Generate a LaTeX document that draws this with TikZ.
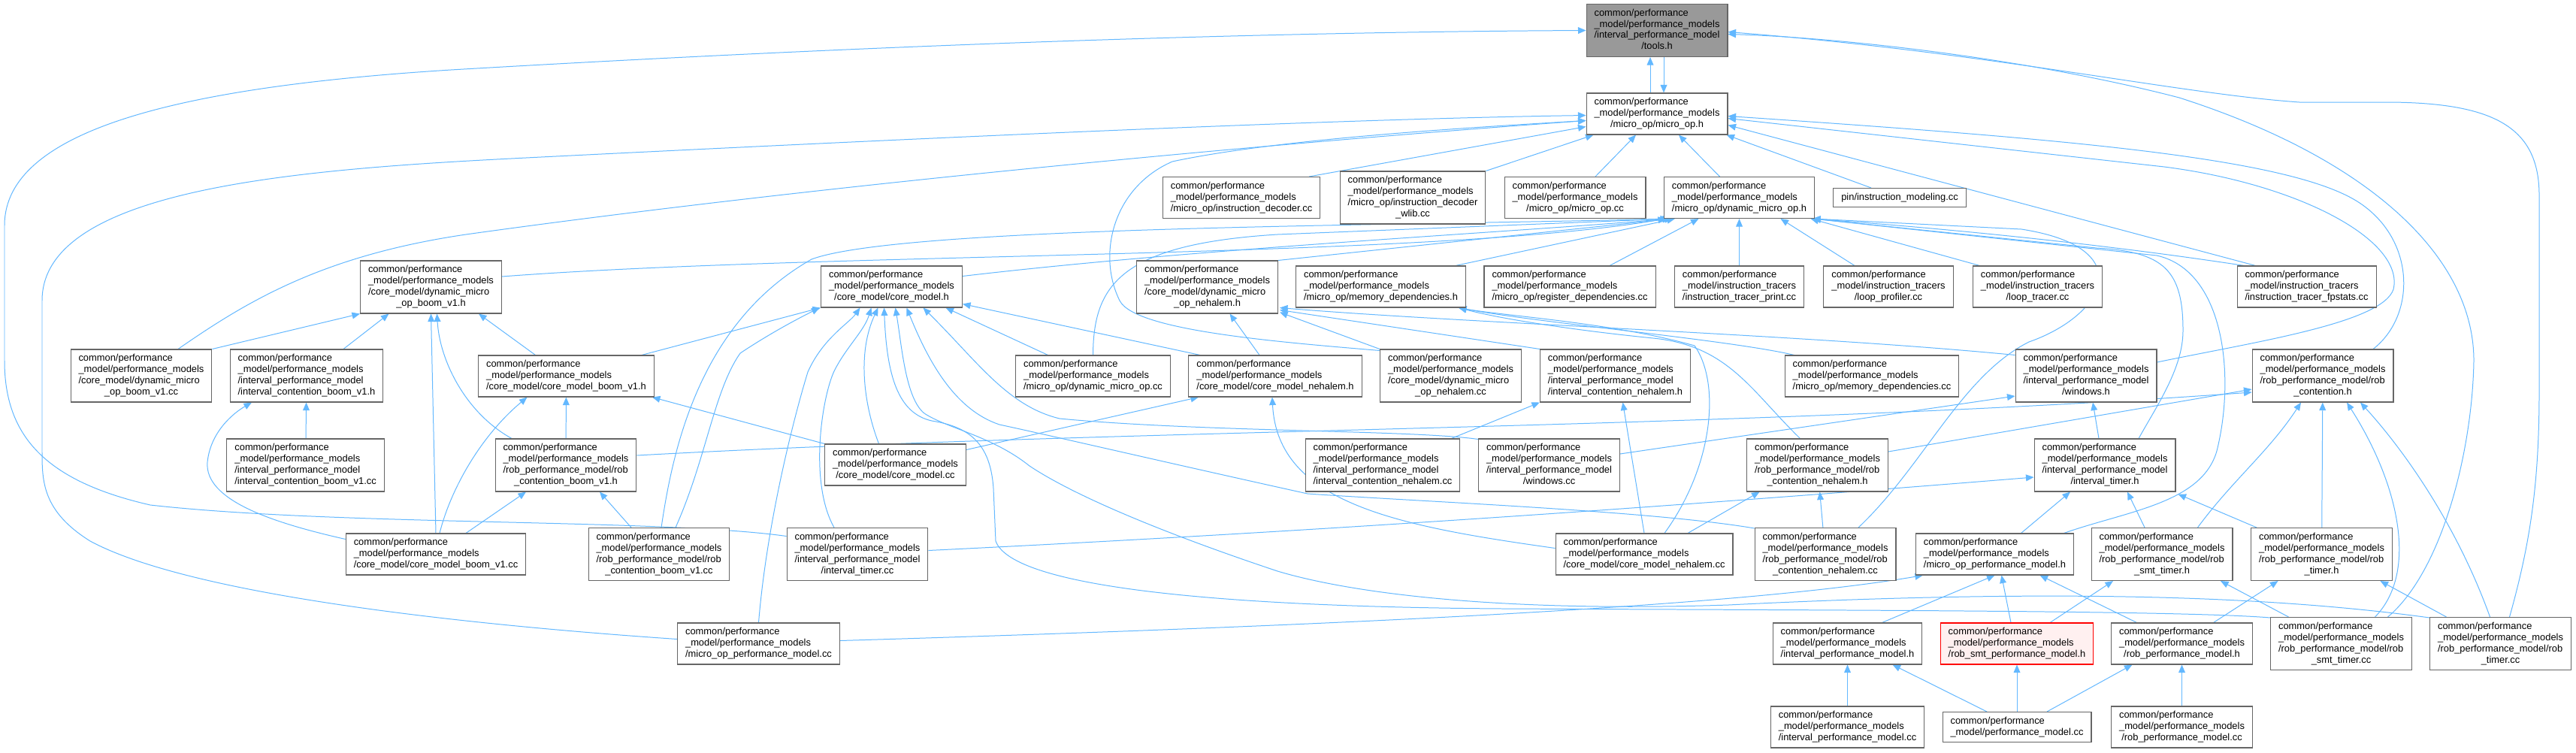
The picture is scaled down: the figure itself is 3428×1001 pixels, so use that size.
\documentclass[tikz,border=0pt]{standalone}
\usepackage{fontspec}
\setmainfont{Liberation Sans}
\usetikzlibrary{arrows.meta,calc,backgrounds}
\definecolor{edgeblue}{HTML}{63B8FF}
\definecolor{nodegray}{HTML}{666666}
\definecolor{curfill}{HTML}{999999}
\definecolor{redfill}{HTML}{FFF0F0}
\tikzset{
  fnode/.style={draw=nodegray,line width=0.9pt,fill=white,rectangle,inner xsep=0.315cm,inner ysep=0.15cm,font=\fontsize{11}{12.8}\selectfont},
  curnode/.style={fnode,fill=curfill},
  rednode/.style={fnode,draw=red,fill=redfill},
  inc/.style={-{Triangle[length=9pt,width=7.5pt]},draw=edgeblue,line width=0.85pt}
}
\newcommand{\cpm}{common/performance\\\_model/performance\_models}
\newcommand{\cit}{common/performance\\\_model/instruction\_tracers}
\newcommand{\lbl}[2]{\begin{tabular}{@{}l@{}}#1\\\multicolumn{1}{@{}c@{}}{#2}\end{tabular}}
\newcommand{\lone}[1]{\begin{tabular}{@{}c@{}}#1\end{tabular}}

\begin{document}
\begin{tikzpicture}[x=0.03cm,y=-0.03cm]
  \useasboundingbox (0,0) rectangle (3428,1001);

  % Top: tools.h and micro_op.h
  \node[curnode] (tools) at (2205,40.5) {\lbl{\cpm\\/interval\_performance\_model}{/tools.h}};
  \node[fnode] (microop) at (2205,151.5) {\lbl{\cpm}{/micro\_op/micro\_op.h}};

  % Row 3
  \node[fnode] (idec) at (1652,263) {\lbl{\cpm}{/micro\_op/instruction\_decoder.cc}};
  \node[fnode] (wlib) at (1880,263) {\lbl{\cpm\\/micro\_op/instruction\_decoder}{\_wlib.cc}};
  \node[fnode] (mopcc) at (2096,263) {\lbl{\cpm}{/micro\_op/micro\_op.cc}};
  \node[fnode] (dmoph) at (2314.5,263) {\lbl{\cpm}{/micro\_op/dynamic\_micro\_op.h}};
  \node[fnode] (pin) at (2528,263) {\lone{pin/instruction\_modeling.cc}};

  % Row 4
  \node[fnode] (dmbh) at (573.5,382) {\lbl{\cpm\\/core\_model/dynamic\_micro}{\_op\_boom\_v1.h}};
  \node[fnode] (cmh) at (1186.5,381.5) {\lbl{\cpm}{/core\_model/core\_model.h}};
  \node[fnode] (dmnh) at (1606.5,382) {\lbl{\cpm\\/core\_model/dynamic\_micro}{\_op\_nehalem.h}};
  \node[fnode] (memdh) at (1837.5,381.5) {\lbl{\cpm}{/micro\_op/memory\_dependencies.h}};
  \node[fnode] (regdcc) at (2089,381.5) {\lbl{\cpm}{/micro\_op/register\_dependencies.cc}};
  \node[fnode] (itpcc) at (2314.5,381.5) {\lbl{\cit}{/instruction\_tracer\_print.cc}};
  \node[fnode] (lpcc) at (2513,381.5) {\lbl{\cit}{/loop\_profiler.cc}};
  \node[fnode] (ltcc) at (2711.5,381.5) {\lbl{\cit}{/loop\_tracer.cc}};
  \node[fnode] (fpcc) at (3069.5,381.5) {\lbl{\cit}{/instruction\_tracer\_fpstats.cc}};

  % Row 5
  \node[fnode] (dmbcc) at (188,500) {\lbl{\cpm\\/core\_model/dynamic\_micro}{\_op\_boom\_v1.cc}};
  \node[fnode] (icbh) at (408,500) {\lbl{\cpm\\/interval\_performance\_model}{/interval\_contention\_boom\_v1.h}};
  \node[fnode] (cmbh) at (753.5,500.5) {\lbl{\cpm}{/core\_model/core\_model\_boom\_v1.h}};
  \node[fnode] (dmocc) at (1454.5,500.5) {\lbl{\cpm}{/micro\_op/dynamic\_micro\_op.cc}};
  \node[fnode] (cmnh) at (1697,500.5) {\lbl{\cpm}{/core\_model/core\_model\_nehalem.h}};
  \node[fnode] (dmncc) at (1930.5,500) {\lbl{\cpm\\/core\_model/dynamic\_micro}{\_op\_nehalem.cc}};
  \node[fnode] (icnh) at (2149.5,500) {\lbl{\cpm\\/interval\_performance\_model}{/interval\_contention\_nehalem.h}};
  \node[fnode] (memdcc) at (2491,500.5) {\lbl{\cpm}{/micro\_op/memory\_dependencies.cc}};
  \node[fnode] (winh) at (2776,500) {\lbl{\cpm\\/interval\_performance\_model}{/windows.h}};
  \node[fnode] (robch) at (3091,500) {\lbl{\cpm\\/rob\_performance\_model/rob}{\_contention.h}};

  % Row 6
  \node[fnode] (icbcc) at (406.6,619) {\lbl{\cpm\\/interval\_performance\_model}{/interval\_contention\_boom\_v1.cc}};
  \node[fnode] (rcbh) at (753,619) {\lbl{\cpm\\/rob\_performance\_model/rob}{\_contention\_boom\_v1.h}};
  \node[fnode] (cmcc) at (1191.5,618.5) {\lbl{\cpm}{/core\_model/core\_model.cc}};
  \node[fnode] (icncc) at (1840,619) {\lbl{\cpm\\/interval\_performance\_model}{/interval\_contention\_nehalem.cc}};
  \node[fnode] (wincc) at (2061.5,619) {\lbl{\cpm\\/interval\_performance\_model}{/windows.cc}};
  \node[fnode] (rcnh) at (2418.5,619) {\lbl{\cpm\\/rob\_performance\_model/rob}{\_contention\_nehalem.h}};
  \node[fnode] (ith) at (2801,619) {\lbl{\cpm\\/interval\_performance\_model}{/interval\_timer.h}};

  % Row 7
  \node[fnode] (cmbcc) at (580,737.5) {\lbl{\cpm}{/core\_model/core\_model\_boom\_v1.cc}};
  \node[fnode] (rcbcc) at (877,737.5) {\lbl{\cpm\\/rob\_performance\_model/rob}{\_contention\_boom\_v1.cc}};
  \node[fnode] (itcc) at (1141,737.5) {\lbl{\cpm\\/interval\_performance\_model}{/interval\_timer.cc}};
  \node[fnode] (cmncc) at (2188,737.5) {\lbl{\cpm}{/core\_model/core\_model\_nehalem.cc}};
  \node[fnode] (rcncc) at (2429,737.5) {\lbl{\cpm\\/rob\_performance\_model/rob}{\_contention\_nehalem.cc}};
  \node[fnode] (moph) at (2654.5,737.5) {\lbl{\cpm}{/micro\_op\_performance\_model.h}};
  \node[fnode] (rsth) at (2877,737.5) {\lbl{\cpm\\/rob\_performance\_model/rob}{\_smt\_timer.h}};
  \node[fnode] (rth) at (3089.5,737.5) {\lbl{\cpm\\/rob\_performance\_model/rob}{\_timer.h}};

  % Row 8
  \node[fnode] (mopcc2) at (1009.5,856.5) {\lbl{\cpm}{/micro\_op\_performance\_model.cc}};
  \node[fnode] (iph) at (2458.5,856.5) {\lbl{\cpm}{/interval\_performance\_model.h}};
  \node[rednode] (rsph) at (2684,856.5) {\lbl{\cpm}{/rob\_smt\_performance\_model.h}};
  \node[fnode] (rph) at (2903.5,856.5) {\lbl{\cpm}{/rob\_performance\_model.h}};
  \node[fnode] (rstcc) at (3115.5,856.5) {\lbl{\cpm\\/rob\_performance\_model/rob}{\_smt\_timer.cc}};
  \node[fnode] (rtcc) at (3327.5,856.5) {\lbl{\cpm\\/rob\_performance\_model/rob}{\_timer.cc}};

  % Row 9
  \node[fnode] (ipcc) at (2458.5,967.5) {\lbl{\cpm}{/interval\_performance\_model.cc}};
  \node[fnode] (pmcc) at (2684,967.5) {\lbl{common/performance}{\_model/performance\_model.cc}};
  \node[fnode] (rpcc) at (2903.5,967.5) {\lbl{\cpm}{/rob\_performance\_model.cc}};

  \begin{scope}[on background layer]
  \fill[white] (0,0) rectangle (3428,1001);

  % into tools.h
  \draw[inc] ($(microop.north)+(-9,0)$) -- ($(tools.south)+(-9,0)$);
  \draw[inc] ($(tools.south)+(9,0)$) -- ($(microop.north)+(9,0)$);
  \draw[inc] ($(itcc.west)+(0,-24)$) .. controls (880,690) and (450,700) .. (200,672) .. controls (60,640) and (6,580) .. (6,480) -- (6,300) .. controls (6,170) and (250,115) .. (600,93) .. controls (1300,52) and (1800,42) .. (tools.west);
  \draw[inc] ($(rtcc.north)+(12,0)$) .. controls (3368,720) and (3379,640) .. (3379,520) -- (3379,260) .. controls (3379,170) and (3320,137) .. (3180,136) -- (3060,136) .. controls (2900,125) and (2650,70) .. ($(tools.east)+(0,2)$);
  \draw[inc] ($(rstcc.north)+(62,0)$) .. controls (3250,760) and (3290,600) .. (3292,480) .. controls (3292,340) and (3150,210) .. (2900,130) .. controls (2700,78) and (2450,50) .. ($(tools.east)+(0,5)$);

  % into micro_op.h
  \draw[inc] ($(idec.north east)+(-15,0)$) -- ($(microop.west)+(0,17)$);
  \draw[inc] (wlib.north east) -- ($(microop.south west)+(10,0)$);
  \draw[inc] ($(mopcc.north)+(27,0)$) -- ($(microop.south)+(-28,0)$);
  \draw[inc] ($(dmoph.north)+(-26,0)$) -- ($(microop.south)+(29,0)$);
  \draw[inc] ($(pin.north)+(-38,0)$) -- ($(microop.south east)+(-2,0)$);
  \draw[inc] ($(fpcc.north)+(-68,0)$) -- ($(microop.east)+(0,15)$);
  \draw[inc] ($(winh.east)+(0,-18)$) .. controls (3000,455) and (3170,430) .. (3185,385) .. controls (3200,320) and (3060,245) .. (2880,222) -- ($(microop.east)+(0,6)$);
  \draw[inc] ($(robch.north)+(67,0)$) .. controls (3215,420) and (3215,320) .. (3140,270) .. controls (3050,210) and (2750,185) .. ($(microop.east)+(0,3)$);
  \draw[inc] ($(mopcc2.west)+(0,-6)$) .. controls (600,830) and (250,790) .. (120,720) .. controls (56,680) and (56,640) .. (56,600) -- (56,400) .. controls (56,250) and (400,225) .. (700,210) .. controls (1300,180) and (1800,158) .. ($(microop.west)+(0,2)$);
  \draw[inc] ($(dmbcc.north)+(49,0)$) .. controls (330,400) and (430,340) .. (620,312) .. controls (1100,245) and (1700,190) .. ($(microop.west)+(0,9)$);
  \draw[inc] ($(dmncc.north west)+(0,2)$) .. controls (1700,455) and (1510,440) .. (1490,400) .. controls (1460,340) and (1480,250) .. (1560,215) .. controls (1700,185) and (1950,170) .. ($(microop.west)+(0,9)$);

  % into dynamic_micro_op.h
  \draw[inc] ($(dmbh.east)+(0,-14)$) .. controls (1100,335) and (1900,345) .. ($(dmoph.south west)+(3,0)$);
  \draw[inc] ($(rcbcc.north)+(3,0)$) .. controls (895,600) and (930,430) .. (1080,345) .. controls (1200,300) and (1900,300) .. ($(dmoph.south west)+(6,0)$);
  \draw[inc] ($(cmh.east)+(0,-14)$) .. controls (1600,330) and (2000,310) .. ($(dmoph.south west)+(9,0)$);
  \draw[inc] (dmnh.north east) -- ($(dmoph.south west)+(12,0)$);
  \draw[inc] (dmocc.north) .. controls (1455,380) and (1490,325) .. (1700,312) -- ($(dmoph.south west)+(10,0)$);
  \draw[inc] ($(memdh.north east)+(-14,0)$) -- ($(dmoph.south west)+(15,0)$);
  \draw[inc] ($(regdcc.north)+(53,0)$) -- ($(dmoph.south)+(-54,0)$);
  \draw[inc] (itpcc) -- (dmoph);
  \draw[inc] ($(lpcc.north)+(-45,0)$) -- ($(dmoph.south)+(55,0)$);
  \draw[inc] ($(ltcc.north)+(-77,0)$) -- ($(dmoph.south)+(95,0)$);
  \draw[inc] ($(fpcc.north)+(-83,0)$) .. controls (2800,325) and (2600,305) .. ($(dmoph.south east)+(-3,0)$);
  \draw[inc] ($(ith.north)+(45,0)$) .. controls (2870,540) and (2905,490) .. (2905,440) .. controls (2905,360) and (2880,335) .. (2790,330) -- ($(dmoph.south east)+(-3,0)$);
  \draw[inc] ($(moph.north)+(92,0)$) .. controls (2830,680) and (2930,670) .. (2950,600) .. controls (2975,500) and (2960,360) .. (2870,340) -- ($(dmoph.south east)+(-3,0)$);
  \draw[inc] ($(rcncc.north)+(44,0)$) .. controls (2560,620) and (2610,500) .. (2700,455) .. controls (2800,420) and (2850,330) .. (2690,305) -- ($(dmoph.south east)+(-3,0)$);

  % into core_model.h
  \draw[inc] ($(cmbh.north east)+(-17,0)$) -- (cmh.south west);
  \draw[inc] ($(rcbcc.north)+(22,0)$) .. controls (940,610) and (950,520) .. (985,470) .. controls (1030,440) and (1070,420) .. ($(cmh.south)+(-96,0)$);
  \draw[inc] (mopcc2.north) .. controls (1020,700) and (1055,560) .. (1075,495) .. controls (1095,450) and (1130,430) .. ($(cmh.south)+(-42,0)$);
  \draw[inc] ($(itcc.north)+(-31,0)$) .. controls (1075,640) and (1095,520) .. (1112,490) .. controls (1128,460) and (1150,440) .. ($(cmh.south)+(-27,0)$);
  \draw[inc] ($(cmcc.north)+(-22,0)$) .. controls (1150,540) and (1140,470) .. ($(cmh.south)+(-18,0)$);
  \draw[inc] ($(rstcc.north west)+(0,1)$) .. controls (2900,812) and (2400,812) .. (2000,810) .. controls (1700,808) and (1350,790) .. (1325,720) -- (1322,650) .. controls (1318,590) and (1290,568) .. (1240,560) .. controls (1195,550) and (1180,500) .. ($(cmh.south)+(-10,0)$);
  \draw[inc] ($(rtcc.north west)+(0,1)$) .. controls (3000,790) and (2700,785) .. (2300,805) .. controls (2000,815) and (1800,790) .. (1700,760) .. controls (1550,710) and (1430,660) .. (1370,620) .. controls (1320,580) and (1260,570) .. (1230,550) .. controls (1205,530) and (1200,460) .. ($(cmh.south)+(5,0)$);
  \draw[inc] ($(rcncc.north west)+(0,1)$) .. controls (2200,680) and (1900,668) .. (1740,657) .. controls (1550,615) and (1400,580) .. (1330,565) .. controls (1270,545) and (1235,480) .. ($(cmh.south)+(20,0)$);
  \draw[inc] ($(wincc.north west)+(0,1)$) .. controls (1880,572) and (1600,575) .. (1410,557) .. controls (1340,540) and (1300,480) .. ($(cmh.south)+(42,0)$);
  \draw[inc] ($(dmocc.north)+(-60,0)$) -- ($(cmh.south)+(72,0)$);
  \draw[inc] ($(cmnh.north)+(-100,0)$) -- ($(cmh.east)+(0,23)$);

  % core_model_boom_v1.h and dynamic_micro_op_boom_v1.h
  \draw[inc] (rcbh) -- (cmbh);
  \draw[inc] ($(cmbcc.north)+(5,0)$) .. controls (600,650) and (640,580) .. ($(cmbh.south)+(-52,0)$);
  \draw[inc] (cmcc.north west) -- ($(cmbh.south east)+(-3,0)$);
  \draw[inc] ($(cmbh.north)+(-41,0)$) -- ($(dmbh.south east)+(-31,0)$);
  \draw[inc] (dmbcc.north east) -- (dmbh.south west);
  \draw[inc] ($(icbh.north)+(49,0)$) -- ($(dmbh.south)+(-56,0)$);
  \draw[inc] (cmbcc.north) -- (dmbh.south);
  \draw[inc] ($(rcbh.north)+(-72,0)$) .. controls (620,550) and (585,480) .. ($(dmbh.south)+(8,0)$);

  % interval_contention_boom_v1.h and rob_contention_boom_v1.h
  \draw[inc] (icbcc) -- (icbh);
  \draw[inc] ($(cmbcc.west)+(0,-20)$) .. controls (360,695) and (272,665) .. (276,615) .. controls (280,575) and (310,550) .. ($(icbh.south)+(-73,0)$);
  \draw[inc] ($(cmbcc.north)+(40,0)$) -- ($(rcbh.south)+(-53,0)$);
  \draw[inc] ($(rcbcc.north)+(-37,0)$) -- ($(rcbh.south)+(45,0)$);

  % nehalem headers
  \draw[inc] ($(cmnh.north)+(-21,0)$) -- ($(dmnh.south)+(30,0)$);
  \draw[inc] (dmncc.north west) -- ($(dmnh.south east)+(2,-2)$);
  \draw[inc] (icnh.north west) -- ($(dmnh.south east)+(2,-5)$);
  \draw[inc] ($(winh.north west)+(0,8)$) .. controls (2400,445) and (1950,430) .. ($(dmnh.south east)+(2,-8)$);
  \draw[inc] ($(memdcc.north west)+(13,0)$) .. controls (2300,452) and (2050,430) .. ($(memdh.south east)+(-10,0)$);
  \draw[inc] ($(rcnh.north)+(-23,0)$) .. controls (2330,520) and (2300,460) .. (2200,450) .. controls (2100,440) and (2000,425) .. ($(memdh.south east)+(-10,0)$);
  \draw[inc] ($(cmncc.north)+(27,0)$) .. controls (2280,620) and (2290,510) .. (2255,460) .. controls (2150,430) and (2000,420) .. ($(memdh.south east)+(-10,0)$);
  \draw[inc] ($(icncc.north east)+(-12,0)$) -- (icnh.south west);
  \draw[inc] (cmncc.north) -- ($(icnh.south)+(10,0)$);
  \draw[inc] ($(cmncc.west)+(0,-8)$) .. controls (1860,700) and (1700,670) .. ($(cmnh.south)+(-4,0)$);
  \draw[inc] ($(cmncc.north)+(58,0)$) -- ($(rcnh.south)+(-77,0)$);
  \draw[inc] ($(cmcc.east)+(0,-20)$) -- ($(cmnh.south)+(-102,0)$);
  \draw[inc] (rcncc) -- (rcnh);
  \draw[inc] ($(rcnh.east)+(0,-18)$) -- ($(robch.west)+(0,18)$);

  % windows.h and rob_contention.h
  \draw[inc] ($(wincc.east)+(0,-15)$) -- ($(winh.west)+(0,27)$);
  \draw[inc] ($(ith.north)+(-8,0)$) -- ($(winh.south)+(9,0)$);
  \draw[inc] ($(rcbh.east)+(0,-13)$) .. controls (1500,570) and (2300,572) .. ($(robch.west)+(0,22)$);
  \draw[inc] ($(rsth.north east)+(-47,0)$) .. controls (2970,640) and (3020,600) .. ($(robch.south)+(-29,0)$);
  \draw[inc] (rth) -- (robch);
  \draw[inc] ($(rstcc.north)+(45,0)$) .. controls (3220,760) and (3190,640) .. ($(robch.south)+(32,0)$);
  \draw[inc] ($(rtcc.north)+(-14,0)$) .. controls (3270,700) and (3200,600) .. ($(robch.south)+(50,0)$);

  % interval_timer.h
  \draw[inc] ($(itcc.east)+(0,-5)$) .. controls (1800,705) and (2300,668) .. ($(ith.west)+(0,16)$);
  \draw[inc] ($(moph.north)+(35,0)$) -- ($(ith.south)+(-46,0)$);
  \draw[inc] ($(rsth.north)+(-23,0)$) -- ($(ith.south)+(30,0)$);
  \draw[inc] ($(rth.north west)+(8,0)$) -- ($(ith.south east)+(3,3)$);

  % micro_op_performance_model.h
  \draw[inc] ($(mopcc2.east)+(0,-4)$) .. controls (1700,835) and (2300,810) .. ($(moph.south west)+(10,0)$);
  \draw[inc] ($(iph.north)+(46,0)$) -- (moph.south);
  \draw[inc] ($(rsph.north)+(-8,0)$) -- ($(moph.south)+(9,0)$);
  \draw[inc] ($(rph.north)+(-60,0)$) -- ($(moph.south)+(60,0)$);

  % rob timers
  \draw[inc] ($(rsph.north)+(44,0)$) -- ($(rsth.south)+(-65,0)$);
  \draw[inc] ($(rstcc.north)+(-70,0)$) -- ($(rsth.south)+(78,0)$);
  \draw[inc] ($(rph.north)+(42,0)$) -- ($(rth.south)+(-58,0)$);
  \draw[inc] ($(rtcc.north)+(-72,0)$) -- ($(rth.south)+(78,0)$);

  % bottom row
  \draw[inc] (ipcc) -- (iph);
  \draw[inc] ($(pmcc.north)+(-40,0)$) -- ($(iph.south)+(60,0)$);
  \draw[inc] (pmcc) -- (rsph);
  \draw[inc] ($(pmcc.north)+(40,0)$) -- ($(rph.south)+(-66,0)$);
  \draw[inc] (rpcc) -- (rph);
  \end{scope}
\end{tikzpicture}
\end{document}
